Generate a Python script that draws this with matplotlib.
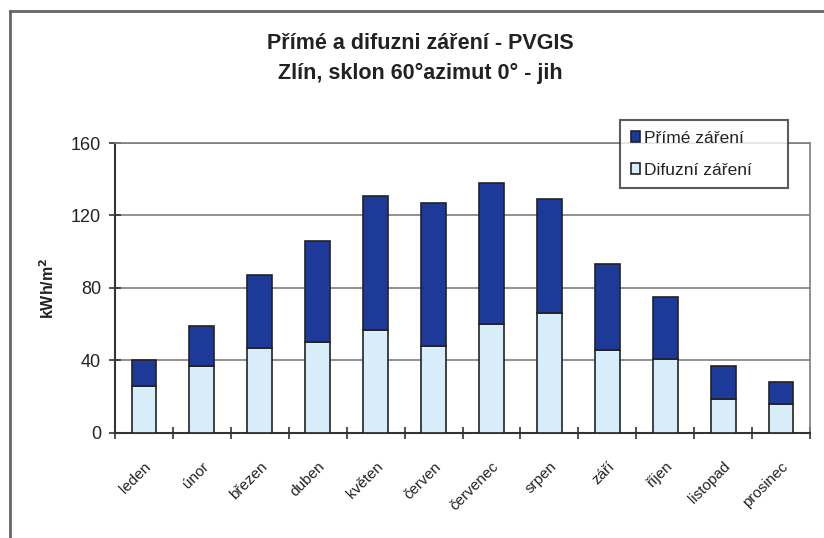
import matplotlib.pyplot as plt
from matplotlib.lines import Line2D
import numpy as np

plt.rcParams['font.family'] = ['Liberation Sans', 'DejaVu Sans']

months = ['leden', 'únor', 'březen', 'duben', 'květen', 'červen',
          'červenec', 'srpen', 'září', 'říjen', 'listopad', 'prosinec']
# kWh/m2
difuzni = [26, 37, 47, 50, 57, 48, 60, 66, 46, 41, 19, 16]
prime = [14, 22, 40, 56, 74, 79, 78, 63, 47, 34, 18, 12]
yticks = [0, 40, 80, 120, 160]

fig = plt.figure(figsize=(8.24, 5.38), dpi=100)
ax = fig.add_axes([0.1396, 0.1952, 0.8434, 0.539])

x = np.arange(len(months))
w = 0.43
ax.bar(x, difuzni, w, color='#d7eefa', edgecolor='#222222', linewidth=1.2,
       label='Difuzní záření', zorder=3)
ax.bar(x, prime, w, bottom=difuzni, color='#1d3a98', edgecolor='#222222',
       linewidth=1.2, label='Přímé záření', zorder=3)

ax.set_xlim(-0.5, len(months) - 0.5)
ax.set_ylim(0, 160)
ax.set_yticks(yticks)
ax.yaxis.grid(True, color='#7f7f7f', linewidth=1.2, zorder=0)
ax.tick_params(axis='y', direction='inout', length=8, width=1.2,
               labelsize=13, color='#333333', pad=6, labelcolor='#222222')

# category ticks sit between the bars
ax.set_xticks(x)
ax.set_xticklabels(months, rotation=45, ha='right', va='top',
                   rotation_mode='anchor', fontsize=11, color='#222222')
ax.set_xticks(np.arange(-0.5, len(months)), minor=True)
ax.tick_params(axis='x', which='major', length=0, pad=19)
ax.tick_params(axis='x', which='minor', direction='inout', length=8,
               width=1.2, color='#333333')

for s in ['left', 'bottom']:
    ax.spines[s].set_color('#333333')
    ax.spines[s].set_linewidth(1.5)
for s in ['top', 'right']:
    ax.spines[s].set_color('#7f7f7f')
    ax.spines[s].set_linewidth(1.2)

ax.set_ylabel('kWh/m$^\\mathbf{2}$', fontsize=11.5, fontweight='bold',
              labelpad=10, color='#222222')

fig.text(0.51, 0.92, 'Přímé a difuzni záření - PVGIS', ha='center',
         va='center', fontsize=15.5, fontweight='bold', color='#222222')
fig.text(0.51, 0.864, 'Zlín, sklon 60°azimut 0° - jih', ha='center',
         va='center', fontsize=15.5, fontweight='bold', color='#222222')

h, l = ax.get_legend_handles_labels()
leg = ax.legend(h[::-1], l[::-1], loc='upper left', mode='expand',
                bbox_to_anchor=(0.727, 1.0, 0.242, 0.079), fontsize=12.5,
                frameon=True, fancybox=False, handlelength=0.55,
                handleheight=0.55, handletextpad=0.2, labelspacing=1.0,
                borderpad=0.6, borderaxespad=0)
leg.get_frame().set_edgecolor('#333333')
leg.get_frame().set_linewidth(1.5)
leg.set_zorder(5)
for t in leg.get_texts():
    t.set_color('#222222')

# outer chart frame (cut by the image edges)
fig.add_artist(Line2D([0.012, 1.0], [0.98, 0.98], color='#666666', lw=2))
fig.add_artist(Line2D([0.012, 0.012], [0.0, 0.98], color='#666666', lw=2))

fig.savefig('out.png', dpi=100, facecolor='white')
